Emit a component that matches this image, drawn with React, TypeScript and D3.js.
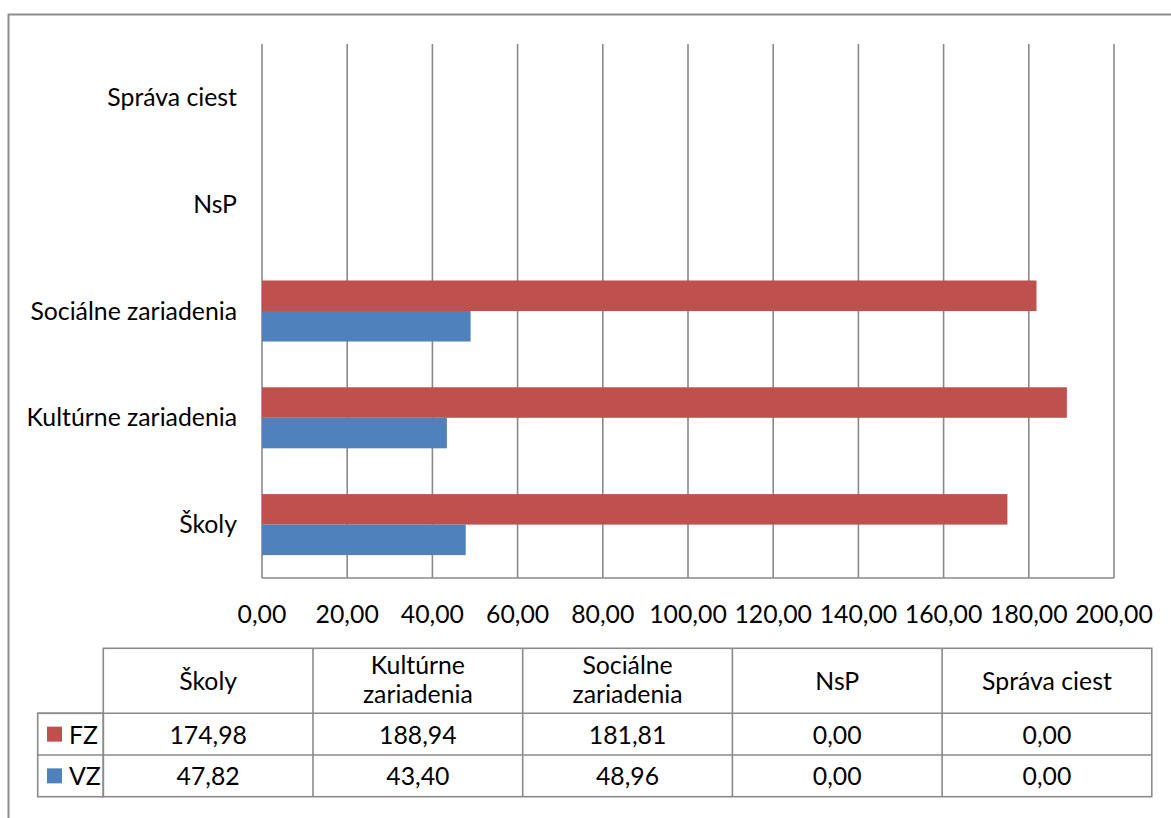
import React from "react";
import * as d3 from "d3";

const categories = ["Školy", "Kultúrne zariadenia", "Sociálne zariadenia", "NsP", "Správa ciest"];
const headerLines = [["Školy"], ["Kultúrne", "zariadenia"], ["Sociálne", "zariadenia"], ["NsP"], ["Správa ciest"]];
const seriesNames = ["FZ", "VZ"];
const fzValues = [174.98, 188.94, 181.81, 0.0, 0.0];
const vzValues = [47.82, 43.4, 48.96, 0.0, 0.0];
const xTicks = [0, 20, 40, 60, 80, 100, 120, 140, 160, 180, 200];
const colors: Record<string, string> = { FZ: "#C0504D", VZ: "#4F81BD" };

const FONT = "Lato, 'Open Sans', sans-serif";
const FS = 24.8;
const fmt = (v: number) => v.toFixed(2).replace(".", ",");

export default function App() {
  const W = 1171, H = 818;
  const plot = { left: 262, right: 1114, top: 44, bottom: 578 };
  const x = d3.scaleLinear().domain([0, 200]).range([plot.left, plot.right]);
  const y = d3.scaleBand<string>().domain([...categories].reverse()).range([plot.top, plot.bottom]).padding(0);
  const step = y.bandwidth();
  const barH = step / 3.5;
  const inner = d3.scaleBand<string>().domain(seriesNames).range([-barH, barH]).padding(0);
  const valuesBy: Record<string, number[]> = { FZ: fzValues, VZ: vzValues };

  const table = { left: 103.3, right: 1151.8, legendLeft: 37.7, top: 648.3, headBottom: 713.3, row1Bottom: 755, row2Bottom: 796.7 };
  const col = d3.scaleBand<string>().domain(categories).range([table.left, table.right]).padding(0);
  const rowTops = [table.headBottom, table.row1Bottom];
  const rowBottoms = [table.row1Bottom, table.row2Bottom];
  const gridColor = "#8a8a8a";

  return (
    <svg width={W} height={H} style={{ position: "absolute", left: 0, top: 0, background: "#fff" }}>
      <rect x={8.5} y={14.5} width={W + 10} height={H + 10} fill="none" stroke="#8c8c8c" strokeWidth={2} />
      {xTicks.map((t) => (
        <line key={"g" + t} x1={x(t)} x2={x(t)} y1={plot.top} y2={plot.bottom} stroke={gridColor} strokeWidth={1.6} />
      ))}
      <line x1={plot.left} x2={plot.right} y1={plot.bottom} y2={plot.bottom} stroke={gridColor} strokeWidth={1.6} />
      {categories.map((c, i) =>
        seriesNames.map((s) => {
          const v = valuesBy[s][i];
          if (v <= 0) return null;
          const cy = (y(c) as number) + step / 2 + (inner(s) as number);
          return (
            <rect key={c + s} x={x(0)} y={cy} width={x(v) - x(0)} height={inner.bandwidth()} fill={colors[s]} />
          );
        })
      )}
      {categories.map((c) => (
        <text key={"cl" + c} x={plot.left - 25} y={(y(c) as number) + step / 2 - 1} textAnchor="end" dominantBaseline="central"
          fontFamily={FONT} fontSize={FS} fill="#000">{c}</text>
      ))}
      {xTicks.map((t) => (
        <text key={"tl" + t} x={x(t)} y={613} textAnchor="middle" dominantBaseline="central" fontFamily={FONT} fontSize={FS} fill="#000">
          {fmt(t)}
        </text>
      ))}
      <g stroke={gridColor} strokeWidth={1.6} fill="none">
        <rect x={table.left} y={table.top} width={table.right - table.left} height={table.row2Bottom - table.top} />
        <rect x={table.legendLeft} y={table.headBottom} width={table.left - table.legendLeft} height={table.row2Bottom - table.headBottom} />
        {categories.slice(1).map((c) => (
          <line key={"cv" + c} x1={col(c)} x2={col(c)} y1={table.top} y2={table.row2Bottom} />
        ))}
        <line x1={table.legendLeft} x2={table.right} y1={table.headBottom} y2={table.headBottom} />
        <line x1={table.legendLeft} x2={table.right} y1={table.row1Bottom} y2={table.row1Bottom} />
      </g>
      {categories.map((c, i) => {
        const cx = (col(c) as number) + col.bandwidth() / 2;
        const lines = headerLines[i];
        const mid = (table.top + table.headBottom) / 2 - (lines.length > 1 ? 2 : 0);
        const lh = 29;
        return lines.map((ln, j) => (
          <text key={"h" + c + j} x={cx} y={mid + (j - (lines.length - 1) / 2) * lh} textAnchor="middle" dominantBaseline="central"
            fontFamily={FONT} fontSize={FS} fill="#000">{ln}</text>
        ));
      })}
      {seriesNames.map((s, r) => {
        const mid = (rowTops[r] + rowBottoms[r]) / 2;
        return (
          <g key={"row" + s}>
            <rect x={47} y={mid - 7.5} width={15} height={15} fill={colors[s]} />
            <text x={69} y={mid} dominantBaseline="central" fontFamily={FONT} fontSize={FS} fill="#000">{s}</text>
            {categories.map((c, i) => (
              <text key={"v" + s + c} x={(col(c) as number) + col.bandwidth() / 2} y={mid} textAnchor="middle" dominantBaseline="central"
                fontFamily={FONT} fontSize={FS} fill="#000">{fmt(valuesBy[s][i])}</text>
            ))}
          </g>
        );
      })}
    </svg>
  );
}
